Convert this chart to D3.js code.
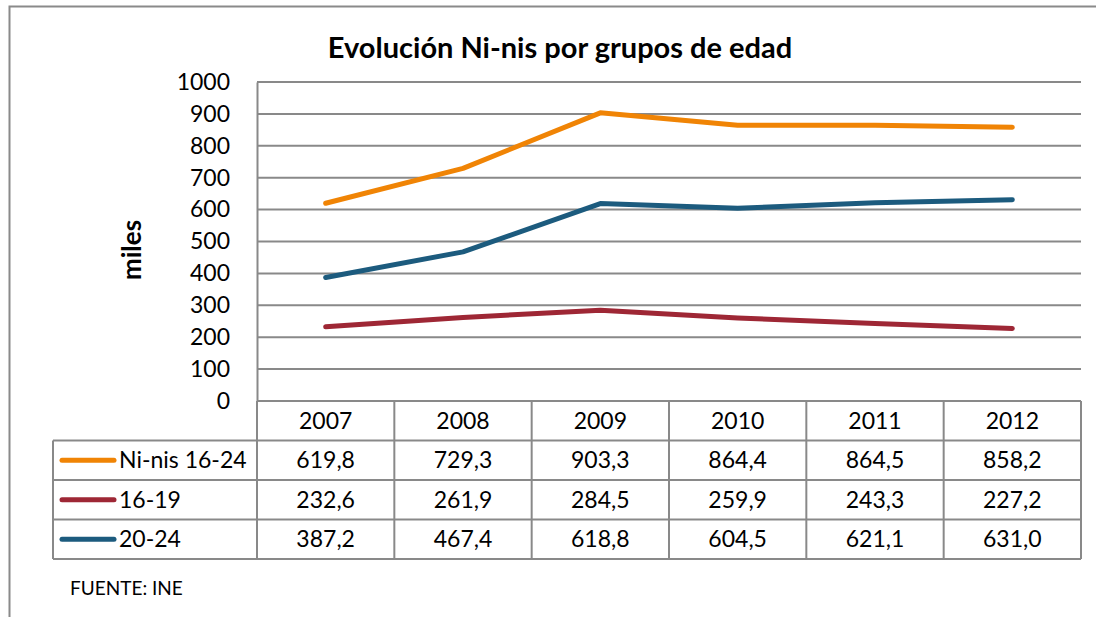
<!DOCTYPE html>
<html>
<head>
<meta charset="utf-8">
<script src="https://cdn.jsdelivr.net/npm/d3@7"></script>
<style>
  body { margin: 0; background: #fff; }
  svg { display: block; font-family: Lato, "Open Sans", sans-serif; }
</style>
</head>
<body>
<div id="chart"></div>
<script>
const years = ["2007", "2008", "2009", "2010", "2011", "2012"];
const seriesNames = ["Ni-nis 16-24", "16-19", "20-24"];
const ninis = [619.8, 729.3, 903.3, 864.4, 864.5, 858.2];
const age1619 = [232.6, 261.9, 284.5, 259.9, 243.3, 227.2];
const age2024 = [387.2, 467.4, 618.8, 604.5, 621.1, 631.0];
const colors = ["#f08405", "#9e2735", "#1c5b7e"];
const yTicks = [0, 100, 200, 300, 400, 500, 600, 700, 800, 900, 1000];

const series = [ninis, age1619, age2024];
const W = 1101, H = 617;
const plot = {left: 257, right: 1081, top: 82, bottom: 401};
const rowH = 39.5;
const legendLeft = 53;
const gridColor = "#898989";
const fs = 23;

const svg = d3.select("#chart").append("svg")
  .attr("width", W).attr("height", H);

// outer frame
svg.append("path")
  .attr("d", "M9.5," + H + " V6.5 H1096")
  .attr("fill", "none").attr("stroke", "#8a8a8a").attr("stroke-width", 2);

svg.append("text")
  .attr("x", 560).attr("y", 58)
  .attr("text-anchor", "middle")
  .attr("font-size", 29).attr("font-weight", "bold")
  .text("Evolución Ni-nis por grupos de edad");

const x = d3.scaleBand().domain(years).range([plot.left, plot.right]);
const y = d3.scaleLinear().domain([0, 1000]).range([plot.bottom, plot.top]);

// gridlines
svg.append("g")
  .selectAll("line").data(yTicks.slice(1)).enter().append("line")
    .attr("x1", plot.left).attr("x2", plot.right)
    .attr("y1", d => y(d)).attr("y2", d => y(d))
    .attr("stroke", gridColor).attr("stroke-width", 2);

// y axis
const yAxis = svg.append("g")
  .attr("transform", "translate(" + plot.left + ",0)")
  .call(d3.axisLeft(y).tickValues(yTicks).tickFormat(d3.format("d")).tickSize(0).tickPadding(27));
yAxis.select(".domain").attr("stroke", gridColor).attr("stroke-width", 2);
yAxis.selectAll("text").attr("font-size", fs).attr("fill", "#000")
  .attr("font-family", "Lato, sans-serif");

svg.append("text")
  .attr("transform", "translate(141,250) rotate(-90)")
  .attr("text-anchor", "middle")
  .attr("font-size", 26).attr("font-weight", "bold")
  .text("miles");

// lines
const line = d3.line()
  .x((d, i) => x(years[i]) + x.bandwidth() / 2)
  .y(d => y(d));
svg.append("g").selectAll("path").data(series).enter().append("path")
  .attr("d", d => line(d))
  .attr("fill", "none")
  .attr("stroke", (d, i) => colors[i])
  .attr("stroke-width", 5)
  .attr("stroke-linecap", "round")
  .attr("stroke-linejoin", "round");

// data table
const table = svg.append("g").attr("stroke", gridColor).attr("stroke-width", 2);
const tableBottom = plot.bottom + rowH * 4;
x.domain().forEach(yr => {
  table.append("line")
    .attr("x1", x(yr) + x.bandwidth()).attr("x2", x(yr) + x.bandwidth())
    .attr("y1", plot.bottom).attr("y2", tableBottom);
});
table.append("line")
  .attr("x1", plot.left).attr("x2", plot.left)
  .attr("y1", plot.bottom).attr("y2", tableBottom);
table.append("line")
  .attr("x1", plot.left).attr("x2", plot.right)
  .attr("y1", plot.bottom).attr("y2", plot.bottom);
for (let r = 1; r <= 4; r++) {
  table.append("line")
    .attr("x1", legendLeft).attr("x2", plot.right)
    .attr("y1", plot.bottom + rowH * r).attr("y2", plot.bottom + rowH * r);
}
table.append("line")
  .attr("x1", legendLeft).attr("x2", legendLeft)
  .attr("y1", plot.bottom + rowH).attr("y2", tableBottom);

// header texts
svg.append("g").selectAll("text").data(years).enter().append("text")
  .attr("x", d => x(d) + x.bandwidth() / 2)
  .attr("y", plot.bottom + rowH / 2)
  .attr("dy", "0.35em")
  .attr("text-anchor", "middle")
  .attr("font-size", fs)
  .text(d => d);

// rows
const fmt = v => v.toFixed(1).replace(".", ",");
series.forEach((vals, s) => {
  const cy = plot.bottom + rowH * (s + 1) + rowH / 2;
  svg.append("line")
    .attr("x1", 62).attr("x2", 114)
    .attr("y1", cy).attr("y2", cy)
    .attr("stroke", colors[s]).attr("stroke-width", 5)
    .attr("stroke-linecap", "round");
  svg.append("text")
    .attr("x", 119).attr("y", cy).attr("dy", "0.35em")
    .attr("font-size", fs)
    .text(seriesNames[s]);
  svg.append("g").selectAll("text").data(vals).enter().append("text")
    .attr("x", (d, i) => x(years[i]) + x.bandwidth() / 2)
    .attr("y", cy).attr("dy", "0.35em")
    .attr("text-anchor", "middle")
    .attr("font-size", fs)
    .text(d => fmt(d));
});

svg.append("text")
  .attr("x", 70).attr("y", 595)
  .attr("font-size", 19)
  .text("FUENTE: INE");
</script>
</body>
</html>
